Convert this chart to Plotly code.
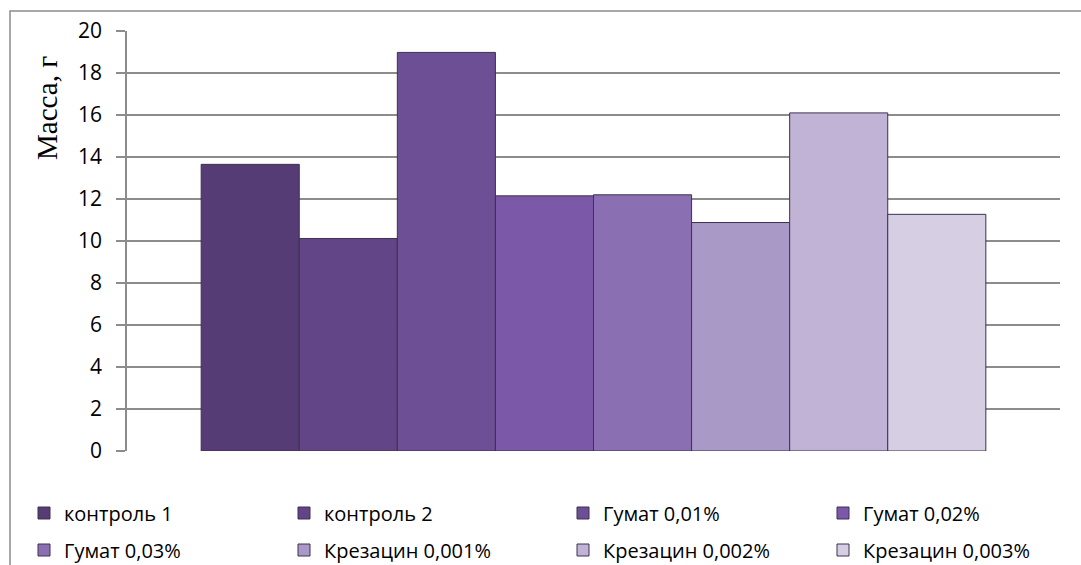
import plotly.graph_objects as go

series_names = ["контроль 1", "контроль 2", "Гумат 0,01%", "Гумат 0,02%",
                "Гумат 0,03%", "Крезацин 0,001%", "Крезацин 0,002%", "Крезацин 0,003%"]
values = [13.65, 10.12, 18.98, 12.15, 12.2, 10.88, 16.1, 11.27]
colors = ["#553c75", "#614587", "#6d4f95", "#7b58a8", "#8a70b2", "#a999c6", "#c0b3d5", "#d6cfe4"]
y_ticks = [0, 2, 4, 6, 8, 10, 12, 14, 16, 18, 20]

W, H = 1081, 565
L, R, T, B = 127, 21, 31, 114
pw, ph = W - L - R, H - T - B

def px_x(p):
    return (p - L) / pw

def px_y(p):
    return (H - B - p) / ph

font_family = "'Open Sans', Lato, sans-serif"
legend_common = dict(
    orientation="h", xanchor="left", yanchor="middle",
    xref="container", yref="container",
    font=dict(family=font_family, size=20, color="#000"),
    bgcolor="rgba(0,0,0,0)", itemclick=False, itemdoubleclick=False,
)

col_px = [24, 284, 563, 823]
row_px = [513, 550]

fig = go.Figure()
legends = {}
for i, (n, v, c) in enumerate(zip(series_names, values, colors)):
    key = "legend" if i == 0 else f"legend{i + 1}"
    fig.add_trace(go.Bar(
        x=[""], y=[v], name=n,
        marker=dict(color=c, line=dict(color="#3e3050", width=1)),
        legend=key,
    ))
    legends[key] = dict(x=col_px[i % 4] / W, y=1 - row_px[i // 4] / H, **legend_common)

fig.update_layout(
    width=W, height=H,
    margin=dict(l=L, r=R, t=T, b=B, autoexpand=False),
    paper_bgcolor="white", plot_bgcolor="white",
    barmode="group", bargap=0.159, bargroupgap=0,
    showlegend=True,
    xaxis=dict(showticklabels=False, showgrid=False, zeroline=False, showline=False, fixedrange=True),
    yaxis=dict(
        range=[0, 20], tickvals=y_ticks, ticktext=[str(t) for t in y_ticks],
        showgrid=True, gridcolor="#8c8c8c", gridwidth=1.5,
        showline=True, linecolor="#8c8c8c", linewidth=1.5,
        ticks="outside", ticklen=9, tickcolor="#8c8c8c", tickwidth=1.5,
        ticklabelstandoff=10,
        tickfont=dict(family=font_family, size=21, color="#000"),
        zeroline=False, fixedrange=True,
    ),
    annotations=[dict(
        text="Масса, г", textangle=-90, showarrow=False,
        xref="paper", yref="paper", x=px_x(47), y=px_y(108),
        xanchor="center", yanchor="middle",
        font=dict(family="'Liberation Serif', 'Times New Roman', serif", size=29, color="#000"),
    )],
    shapes=[dict(
        type="rect", xref="paper", yref="paper",
        x0=px_x(10), x1=px_x(1100), y0=px_y(600), y1=px_y(11),
        line=dict(color="#8c8c8c", width=1.5), fillcolor="rgba(0,0,0,0)", layer="below",
    )],
    **legends,
)

fig.write_html("out.html")
